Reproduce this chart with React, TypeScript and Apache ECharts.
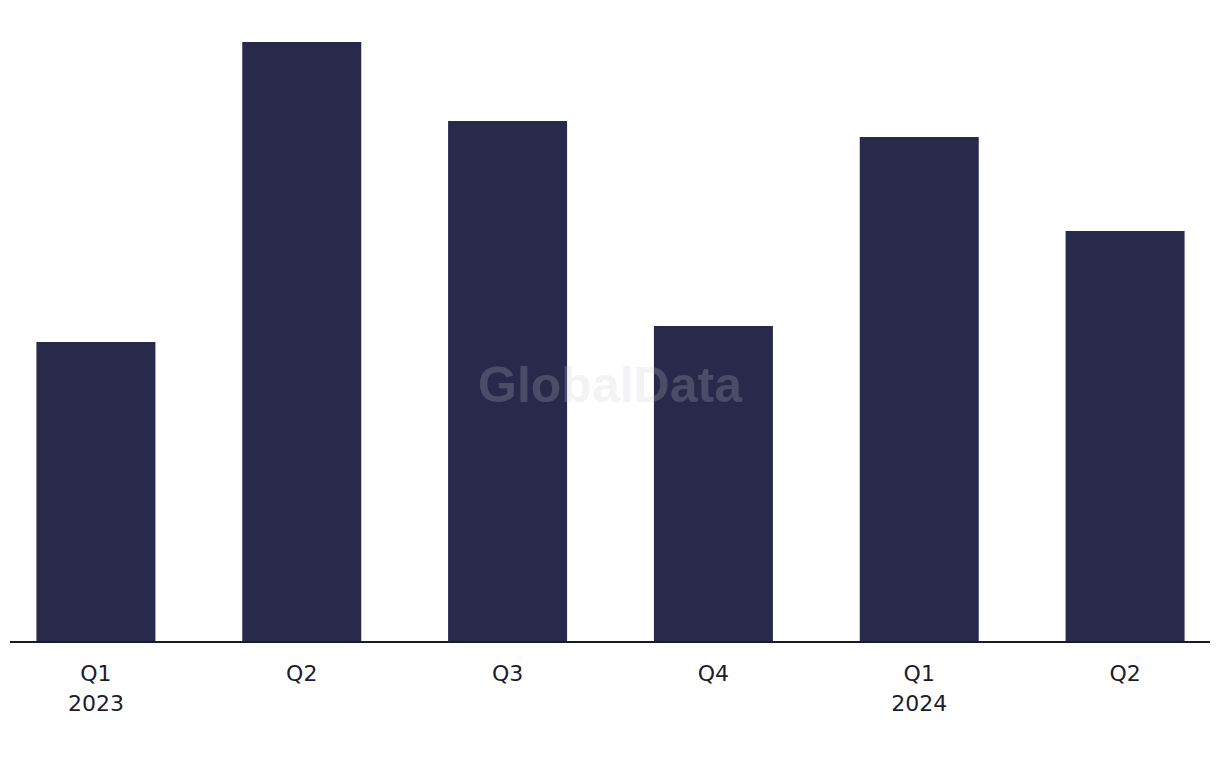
import React, { useEffect, useRef } from "react";
import * as echarts from "echarts";

const quarters = ["Q1", "Q2", "Q3", "Q4", "Q1", "Q2"];
const years = ["2023", "", "", "", "2024", ""];
const values = [299, 599, 520, 315, 504, 410];

const categories = quarters.map((q, i) => (years[i] ? `${q}\n${years[i]}` : q));

const SHIFT = 20;

export default function App() {
  const ref = useRef<HTMLDivElement>(null);
  useEffect(() => {
    if (!ref.current) return;
    const chart = echarts.init(ref.current, null, { renderer: "svg" });
    chart.setOption({
      animation: false,
      backgroundColor: "#ffffff",
      grid: { left: SHIFT - 7, width: 1235, top: 41, bottom: 127 },
      xAxis: {
        type: "category",
        data: categories,
        boundaryGap: true,
        axisLine: { show: false },
        axisTick: { show: false },
        axisLabel: {
          color: "#1c1c2c",
          fontSize: 22,
          lineHeight: 30,
          margin: 17,
          fontFamily: "'DejaVu Sans', sans-serif",
        },
      },
      yAxis: {
        type: "value",
        min: 0,
        max: 600,
        show: false,
        splitLine: { show: false },
      },
      series: [
        {
          type: "bar",
          data: values,
          barWidth: 119,
          itemStyle: { color: "#29294b" },
          z: 2,
        },
      ],
      graphic: [
        {
          type: "line",
          shape: { x1: SHIFT + 10, y1: 642, x2: SHIFT + 1210, y2: 642 },
          style: { stroke: "#1a1a2e", lineWidth: 2 },
          z: 10,
        },
        {
          type: "text",
          x: SHIFT + 610,
          y: 385,
          z: 20,
          style: {
            text: "GlobalData",
            fill: "rgba(200,200,215,0.22)",
            font: "bold 50px 'Liberation Sans', Arial, sans-serif",
            align: "center",
            verticalAlign: "middle",
          },
        },
      ],
    });
    return () => chart.dispose();
  }, []);
  return (
    <div
      style={{
        position: "absolute",
        left: 0,
        top: 0,
        width: 1220,
        height: 768,
        overflow: "hidden",
        background: "#ffffff",
      }}
    >
      <div
        ref={ref}
        style={{ position: "absolute", left: -SHIFT, top: 0, width: 1220 + 2 * SHIFT, height: 768 }}
      />
    </div>
  );
}
